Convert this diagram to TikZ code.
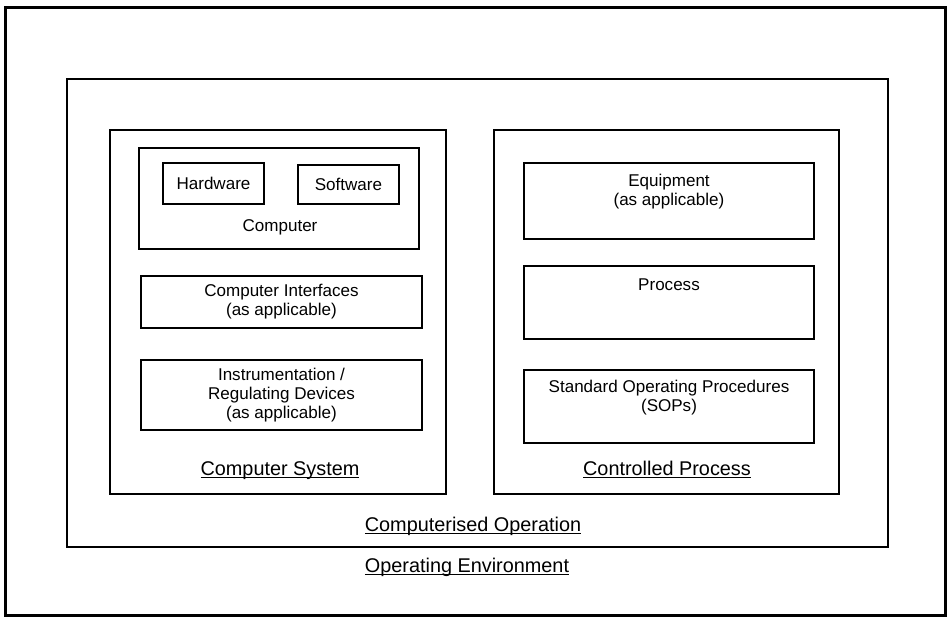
\documentclass[tikz,border=0pt]{standalone}
\usepackage{fontspec}
\setmainfont{Liberation Sans}
\usepackage{tikz}
\usetikzlibrary{positioning}

\begin{document}
\begin{tikzpicture}[x=0.02cm, y=-0.02cm,
    frame/.style={draw, inner sep=0pt},
    boxtext/.style={font=\fontsize{9.7}{10.8}\selectfont, align=center, inner sep=0pt},
    title/.style={font=\fontsize{11.3}{13}\selectfont, inner sep=0pt, anchor=base}]
            \useasboundingbox (0,0) rectangle (950,620);
            \node[frame, line width=1.7pt, minimum width=18.82cm, minimum height=12.18cm] (env) at (475.5,311.5) {};
            \node[frame, line width=1.4pt, minimum width=16.42cm, minimum height=9.36cm] (oper) at (477.5,313) {};
            \node[frame, line width=1.1pt, minimum width=6.72cm, minimum height=7.28cm] (sys) at (278,312) {};
            \node[frame, line width=1.1pt, minimum width=6.9cm, minimum height=7.28cm] (ctrl) at (666.5,312) {};

            \node[frame, line width=0.85pt, minimum width=5.6cm, minimum height=2.02cm] (comp) at (279,198.5) {};
            \node[frame, boxtext, line width=0.85pt, minimum width=2.02cm, minimum height=0.82cm] (hw) at (213.5,183.5) {Hardware};
            \node[frame, boxtext, line width=0.85pt, minimum width=2.02cm, minimum height=0.78cm] (sw) at (348.5,184.5) {Software};
            \node[boxtext] (comptxt) at (280,227) {Computer};
            \node[frame, boxtext, line width=0.85pt, minimum width=5.62cm, minimum height=1.04cm] (intf) at (281.5,302) {Computer Interfaces\\(as applicable)};
            \node[frame, boxtext, line width=0.85pt, minimum width=5.62cm, minimum height=1.4cm] (instr) at (281.5,395) {Instrumentation /\\Regulating Devices\\(as applicable)};

            \node[frame, line width=0.85pt, minimum width=5.8cm, minimum height=1.52cm] (equip) at (669,201) {};
            \node[frame, line width=0.85pt, minimum width=5.8cm, minimum height=1.46cm] (proc) at (669,302.5) {};
            \node[frame, line width=0.85pt, minimum width=5.8cm, minimum height=1.46cm] (sop) at (669,406.5) {};
            \node[boxtext] (equiptxt) at (669,192) {Equipment\\(as applicable)};
            \node[boxtext] (proctxt) at (669,285) {Process};
            \node[boxtext] (soptxt) at (669,398) {Standard Operating Procedures\\(SOPs)};

            \node[title] (systxt) at (280,475) {\underline{\smash{Computer System}}};
            \node[title] (ctrltxt) at (667,475) {\underline{\smash{Controlled Process}}};
            \node[title] (opertxt) at (473,531) {\underline{\smash{Computerised Operation}}};
            \node[title] (envtxt) at (467,572) {\underline{\smash{Operating Environment}}};
        \end{tikzpicture}
\end{document}
